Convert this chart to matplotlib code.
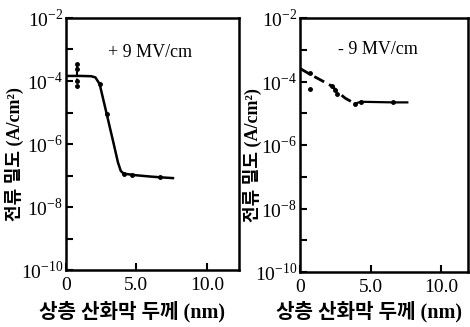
import numpy as np
import matplotlib
matplotlib.use("Agg")
import matplotlib.pyplot as plt
from matplotlib.ticker import FixedLocator, FixedFormatter, NullFormatter

plt.rcParams["font.family"] = ["Liberation Serif", "Noto Sans CJK KR"]
plt.rcParams["mathtext.fontset"] = "custom"
plt.rcParams["mathtext.rm"] = "Liberation Serif"

# panel (a): +9 MV/cm
pos_line_x = [0.0, 1.0, 1.8, 2.1, 2.4, 2.9, 3.4, 3.7, 3.9, 4.1, 5.0, 6.0, 6.7, 7.6]
pos_line_y = [1.45e-4, 1.45e-4, 1.42e-4, 1.3e-4, 8e-5, 9e-6, 1.0e-6, 2.6e-7, 1.4e-7,
              1.15e-7, 1.02e-7, 9.3e-8, 8.8e-8, 8.3e-8]
pos_pts_x = [0.8, 0.8, 0.8, 0.8, 2.4, 2.9, 4.1, 4.7, 6.7]
pos_pts_y = [3.5e-4, 2.4e-4, 1.0e-4, 7e-5, 8e-5, 9e-6, 1.15e-7, 1.05e-7, 8.8e-8]
pos_bar_x = [0.8, 0.8]
pos_bar_y = [3.5e-4, 7e-5]

# panel (b): -9 MV/cm
neg_dash_x = [0.0, 0.7, 1.5, 2.3, 2.6, 3.2, 3.9]
neg_dash_y = [2.6e-4, 1.7e-4, 1.1e-4, 7e-5, 5e-5, 3e-5, 2.0e-5]
neg_solid_x = [3.9, 4.3, 6.6, 7.6]
neg_solid_y = [2.0e-5, 2.3e-5, 2.2e-5, 2.2e-5]
neg_pts_x = [0.7, 0.7, 2.3, 2.5, 2.6, 3.9, 4.3, 6.6]
neg_pts_y = [1.8e-4, 6e-5, 7e-5, 5.5e-5, 3.9e-5, 2.0e-5, 2.3e-5, 2.2e-5]

y_ticks = [1e-10, 1e-8, 1e-6, 1e-4, 1e-2]
y_ticklabels = [r"$10^{-10}$", r"$10^{-8}$", r"$10^{-6}$", r"$10^{-4}$", r"$10^{-2}$"]
y_minor = [1e-9, 1e-7, 1e-5, 1e-3]
x_ticks = [0, 5, 10]
x_ticklabels = ["0", "5.0", "10.0"]

ylabel = "전류 밀도 (A/cm²)"
xlabel = "상층 산화막 두께 (nm)"

fig = plt.figure(figsize=(4.70, 3.27), dpi=100)
ax1 = fig.add_axes([0.140, 0.174, 0.369, 0.771])
ax2 = fig.add_axes([0.638, 0.168, 0.358, 0.777])

for ax, xmax in ((ax1, 12.3), (ax2, 11.9)):
    ax.set_yscale("log")
    ax.set_ylim(1e-10, 1e-2)
    ax.set_xlim(0, xmax)
    ax.yaxis.set_major_locator(FixedLocator(y_ticks))
    ax.yaxis.set_major_formatter(FixedFormatter(y_ticklabels))
    ax.yaxis.set_minor_locator(FixedLocator(y_minor))
    ax.yaxis.set_minor_formatter(NullFormatter())
    ax.set_xticks(x_ticks)
    ax.set_xticklabels(x_ticklabels)
    ax.tick_params(which="both", direction="in", length=5, width=1.5, pad=2)
    ax.tick_params(axis="y", labelsize=14)
    ax.tick_params(axis="x", labelsize=14, pad=5)
    for s in ax.spines.values():
        s.set_linewidth(1.8)
    ax.set_ylabel(ylabel, fontsize=13, fontweight="bold", va="center")

ax1.yaxis.set_label_coords(-0.295, 0.46)
ax2.yaxis.set_label_coords(-0.28, 0.46)

ax1.plot(pos_line_x, pos_line_y, color="black", lw=1.8)
ax1.plot(pos_bar_x, pos_bar_y, color="black", lw=1.5, ls=(0, (2, 1.5)))
ax1.plot(pos_pts_x, pos_pts_y, "o", color="black", ms=2.5)
ax1.text(6.0, 8e-4, "+ 9 MV/cm", fontsize=13, ha="center", va="center")

ax2.plot(neg_dash_x, neg_dash_y, color="black", lw=2.0, ls=(0, (4, 2)))
ax2.plot(neg_solid_x, neg_solid_y, color="black", lw=1.6)
ax2.plot(neg_pts_x, neg_pts_y, "o", color="black", ms=2.5)
ax2.text(5.5, 1.0e-3, "- 9 MV/cm", fontsize=13, ha="center", va="center")

fig.text(0.281, 0.046, xlabel, fontsize=14.5, fontweight="bold", ha="center", va="center")
fig.text(0.785, 0.046, xlabel, fontsize=14.5, fontweight="bold", ha="center", va="center")

fig.savefig("out.png", dpi=100)
